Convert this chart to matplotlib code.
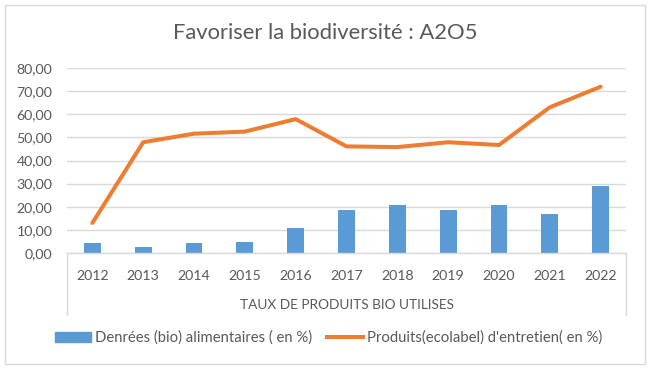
import matplotlib.pyplot as plt
from matplotlib.patches import Rectangle
from matplotlib.lines import Line2D

years = ["2012", "2013", "2014", "2015", "2016", "2017", "2018", "2019", "2020", "2021", "2022"]
denrees = [4.2, 2.5, 4.5, 4.8, 10.7, 18.5, 20.8, 18.6, 20.9, 17.0, 29.0]
produits = [13.0, 47.9, 51.6, 52.5, 57.9, 46.1, 45.8, 47.9, 46.7, 63.0, 71.9]

label_bars = "Denrées (bio) alimentaires ( en %)"
label_line = "Produits(ecolabel) d'entretien( en %)"
title = "Favoriser la biodiversité : A2O5"
xtitle = "TAUX DE PRODUITS BIO UTILISES"

txt = "#595959"
grid = "#d9d9d9"
blue = "#5b9bd5"
orange = "#ed7d31"

plt.rcParams["font.family"] = ["Lato", "DejaVu Sans"]

fig = plt.figure(figsize=(6.51, 3.70), dpi=100)
ax = fig.add_axes([67 / 651, 1 - 253 / 370, (626 - 67) / 651, (253 - 68) / 370])

x = list(range(len(years)))
ax.bar(x, denrees, width=0.33, color=blue, zorder=2, label=label_bars)
ax.plot(x, produits, color=orange, lw=2.9, zorder=3, label=label_line,
        solid_capstyle="round", solid_joinstyle="round")

ax.set_xlim(-0.5, len(years) - 0.5)
ax.set_ylim(0, 80)
ax.set_yticks(range(0, 81, 10))
ax.set_yticklabels([f"{v},00" for v in range(0, 81, 10)])
ax.set_xticks(x)
ax.set_xticklabels(years)
ax.tick_params(axis="both", length=0, labelsize=10.2, colors=txt)
ax.tick_params(axis="x", pad=12)
ax.tick_params(axis="y", pad=10.5)
ax.grid(axis="y", color=grid, lw=1, zorder=0)
ax.set_axisbelow(True)
for s in ["top", "left", "right"]:
    ax.spines[s].set_visible(False)
ax.spines["bottom"].set_color(grid)
ax.spines["bottom"].set_linewidth(1)

# multi-level category axis frame
tr = ax.get_xaxis_transform()
for xv in (-0.5, len(years) - 0.5):
    ax.plot([xv, xv], [0, -0.335], transform=tr, color=grid, lw=1, clip_on=False)
ax.text(0.5, -0.282, xtitle, transform=ax.transAxes, ha="center", va="center",
        fontsize=9.8, color=txt)

fig.text(325 / 651, 1 - 33 / 370, title, ha="center", va="center", fontsize=15.8, color=txt)

handles = [Rectangle((0, 0), 1, 1, color=blue), Line2D([], [], color=orange, lw=2.9)]
fig.legend(handles, [label_bars, label_line], loc="center", bbox_to_anchor=(328.5 / 651, 1 - 338 / 370),
           ncol=2, frameon=False, fontsize=10.7, labelcolor=txt, handlelength=2.4,
           handletextpad=0.27, columnspacing=1.0)

fig.add_artist(Rectangle((5 / 651, 1 - 364 / 370), 640 / 651, 359 / 370, transform=fig.transFigure,
                         fill=False, edgecolor=grid, lw=1))

fig.savefig("out.png", dpi=100)
